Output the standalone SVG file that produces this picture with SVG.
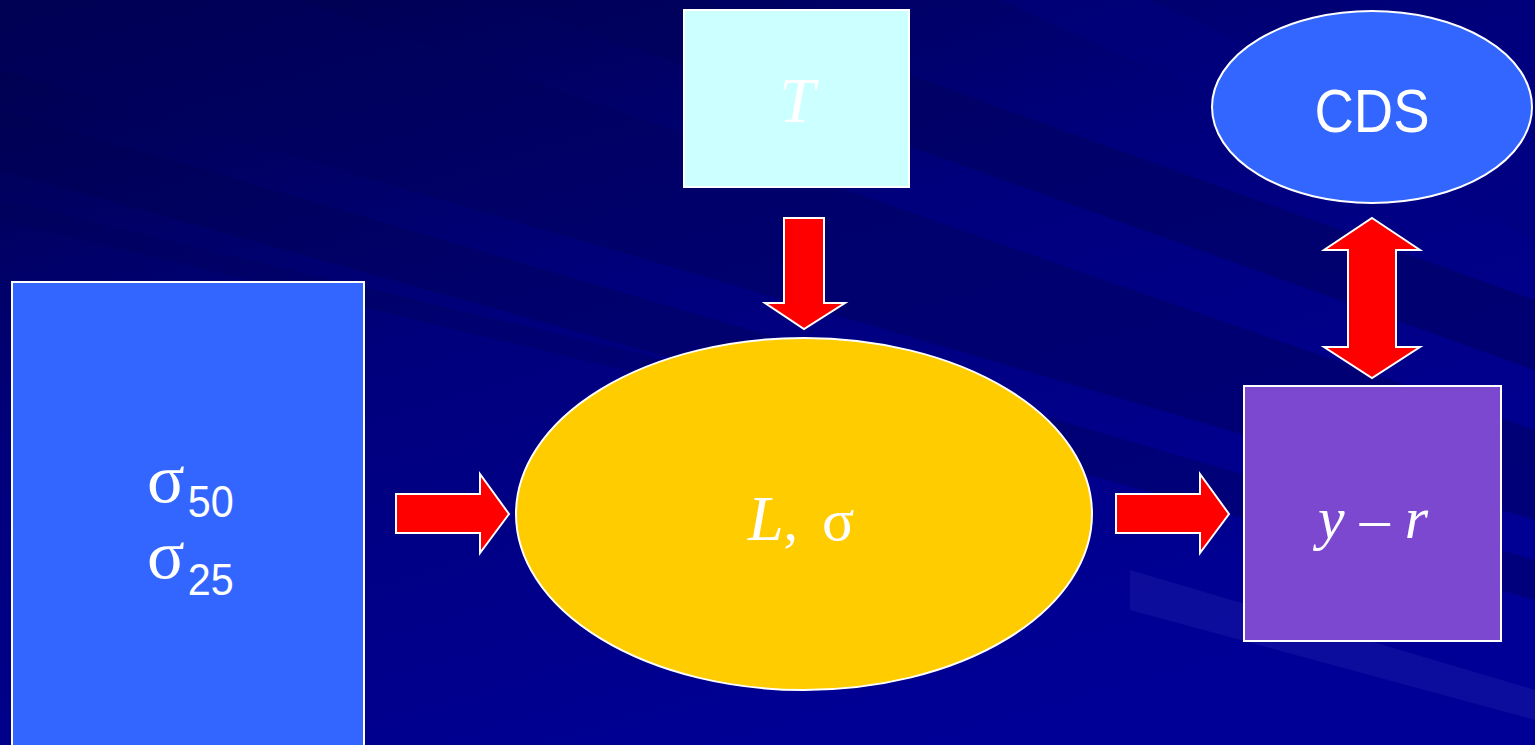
<svg xmlns="http://www.w3.org/2000/svg" width="1535" height="745" viewBox="0 0 1535 745">
<defs>
<linearGradient id="bg" x1="0" y1="0" x2="0.6" y2="1">
<stop offset="0" stop-color="#00004a"/>
<stop offset="0.45" stop-color="#00007c"/>
<stop offset="1" stop-color="#000096"/>
</linearGradient>
<style>
.box{stroke:#ffffff;stroke-width:2}
.arr{fill:#ff0000;stroke:#ffffff;stroke-width:2;stroke-linejoin:miter}
.serif{font-family:"Liberation Serif","Times New Roman",serif;fill:#ffffff}
.sans{font-family:"Liberation Sans",Arial,sans-serif;fill:#ffffff}
</style>
</defs>
<rect width="1535" height="745" fill="url(#bg)"/>
<g id="stripes">
<polygon points="0,0 300,0 1535,430 1535,520 0,70" fill="#00005e" opacity="0.5"/>
<polygon points="0,110 0,170 1535,600 1535,560" fill="#000050" opacity="0.35"/>
<polygon points="0,200 0,220 1000,460 1000,440" fill="#000055" opacity="0.3"/>
<polygon points="500,0 700,0 1535,300 1535,370" fill="#00005a" opacity="0.5"/>
<polygon points="1000,0 1150,0 1535,180 1535,240" fill="#000080" opacity="0.5"/>
<polygon points="1130,570 1535,690 1535,720 1130,610" fill="#2a2ab0" opacity="0.3"/>
</g>
<g id="connectors">
<polygon class="arr" points="396,494 480,494 480,474 509,514 480,553 480,533 396,533"/>
<polygon class="arr" points="1116,494 1200,494 1200,474 1229,514 1200,553 1200,533 1116,533"/>
<polygon class="arr" points="784,218 824,218 824,303 845,303 804,329 765,303 784,303"/>
<polygon class="arr" points="1372,218 1420,250 1396,250 1396,347 1420,347 1372,378 1324,347 1348,347 1348,250 1324,250"/>
</g>
<g id="sigma-box">
<rect class="box" x="12" y="282" width="352" height="480" fill="#3366ff"/>
<text x="147" y="502" class="serif" font-size="70">σ<tspan class="sans" font-size="44" dy="15" dx="3" textLength="46" lengthAdjust="spacingAndGlyphs">50</tspan></text>
<text x="147" y="578" class="serif" font-size="70">σ<tspan class="sans" font-size="44" dy="17" dx="3" textLength="46" lengthAdjust="spacingAndGlyphs">25</tspan></text>
</g>
<g id="T-box">
<rect class="box" x="684" y="10" width="225" height="177" fill="#ccffff"/>
<text x="797" y="122" class="serif" font-size="64" font-style="italic" text-anchor="middle">T</text>
</g>
<g id="CDS">
<ellipse class="box" cx="1372" cy="107" rx="160" ry="96" fill="#3366ff"/>
<text x="1372" y="132" class="sans" font-size="62" text-anchor="middle" textLength="115" lengthAdjust="spacingAndGlyphs">CDS</text>
</g>
<g id="L-sigma">
<ellipse class="box" cx="804" cy="514" rx="288" ry="176" fill="#ffcc00"/>
<text x="748" y="540" class="serif" font-size="64"><tspan font-style="italic">L</tspan><tspan font-size="58">, </tspan><tspan font-size="60" x="822">σ</tspan></text>
</g>
<g id="y-r">
<rect class="box" x="1244" y="386" width="257" height="255" fill="#7b48cf"/>
<text x="1373" y="538" class="serif" font-size="60" text-anchor="middle"><tspan font-style="italic">y</tspan> – <tspan font-style="italic">r</tspan></text>
</g>
</svg>
